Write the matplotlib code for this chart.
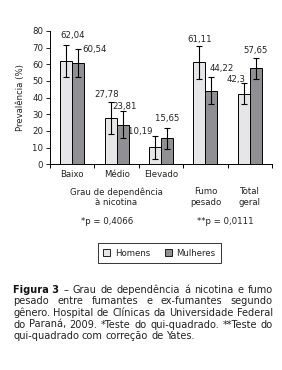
import matplotlib
matplotlib.use("Agg")
import matplotlib.pyplot as plt
from matplotlib import font_manager
from matplotlib.patches import Patch
import numpy as np

# dados
categorias = ["Baixo", "Médio", "Elevado", "Fumo\npesado", "Total\ngeral"]
homens = [62.04, 27.78, 10.19, 61.11, 42.3]
mulheres = [60.54, 23.81, 15.65, 44.22, 57.65]
erro_homens = [9.7, 9.6, 6.8, 9.7, 6.2]
erro_mulheres = [8.4, 8.0, 6.4, 8.3, 6.3]
rotulos_h = ["62,04", "27,78", "10,19", "61,11", "42,3"]
rotulos_m = ["60,54", "23,81", "15,65", "44,22", "57,65"]
p_valores = ["*p = 0,4066", "**p = 0,0111"]
legenda = ["Homens", "Mulheres"]
legenda_linhas = [
    ["Figura 3", "–", "Grau", "de", "dependência", "á", "nicotina", "e", "fumo"],
    ["pesado", "entre", "fumantes", "e", "ex-fumantes", "segundo"],
    ["gênero.", "Hospital", "de", "Clínicas", "da", "Universidade", "Federal"],
    ["do", "Paraná,", "2009.", "*Teste", "do", "qui-quadrado.", "**Teste", "do"],
    ["qui-quadrado", "com", "correção", "de", "Yates."],
]

# fonte estreita se existir
nomes = {f.name for f in font_manager.fontManager.ttflist}
if "Liberation Sans Narrow" in nomes:
    FONTE = "Liberation Sans Narrow"
    STRETCH = "normal"
else:
    FONTE = "DejaVu Sans"
    STRETCH = "condensed"
plt.rcParams["font.family"] = [FONTE, "DejaVu Sans"]
plt.rcParams["font.stretch"] = STRETCH
FS = 6.8
FS_CAP = 7.8

W, H = 282, 370
fig = plt.figure(figsize=(W / 100, H / 100), dpi=100)

def fx(px):
    return px / W

def fy(py):
    return 1 - py / H

ax = fig.add_axes([fx(50), fy(164.3), fx(272) - fx(50), fy(31) - fy(164.3)])

x = np.arange(len(categorias))
larg = 0.27
cor_h = "#e6e6e8"
cor_m = "#909094"
ax.bar(x - larg / 2, homens, larg, color=cor_h, edgecolor="black", linewidth=0.7, zorder=2)
ax.bar(x + larg / 2, mulheres, larg, color=cor_m, edgecolor="black", linewidth=0.7, zorder=2)
ax.errorbar(x - larg / 2, homens, yerr=erro_homens, fmt="none", ecolor="black",
            elinewidth=0.8, capsize=2.0, capthick=0.8, zorder=3)
ax.errorbar(x + larg / 2, mulheres, yerr=erro_mulheres, fmt="none", ecolor="black",
            elinewidth=0.8, capsize=2.0, capthick=0.8, zorder=3)

# posição dos rótulos (pixels relativos ao topo da barra de erro)
desl_h = [(6, 9, "center"), (-4, 8, "center"), (-3, 4, "right"), (0, 7, "center"), (2, 4, "right")]
desl_m = [(4, 0, "left"), (2, 5, "center"), (0, 9, "center"), (-2, 8, "left"), (0, 7, "center")]
for i in range(len(categorias)):
    dx, dy, ha = desl_h[i]
    ax.annotate(rotulos_h[i], (x[i] - larg / 2, homens[i] + erro_homens[i]),
                xytext=(dx, dy), textcoords="offset pixels", ha=ha, va="center",
                fontsize=FS, color="#222222")
    dx, dy, ha = desl_m[i]
    ax.annotate(rotulos_m[i], (x[i] + larg / 2, mulheres[i] + erro_mulheres[i]),
                xytext=(dx, dy), textcoords="offset pixels", ha=ha, va="center",
                fontsize=FS, color="#222222")

ax.set_xlim(-0.5, len(categorias) - 0.5)
ax.set_ylim(0, 80)
ax.set_yticks(range(0, 81, 10))
ax.tick_params(axis="y", labelsize=FS, length=3, width=0.7, pad=2, colors="#222222")
ax.set_xticks(np.arange(-0.5, len(categorias), 1.0))
ax.set_xticklabels([])
ax.tick_params(axis="x", length=3, width=0.7)
ax.set_xticks(x, minor=True)
ax.set_xticklabels(["Baixo", "Médio", "Elevado", "", ""], minor=True, fontsize=FS, color="#222222")
ax.tick_params(axis="x", which="minor", length=0, pad=4)
ax.spines["top"].set_visible(False)
ax.spines["right"].set_visible(False)
for s in ["left", "bottom"]:
    ax.spines[s].set_linewidth(0.7)
ax.set_ylabel("Prevalência (%)", fontsize=FS, color="#222222", labelpad=5)

# textos abaixo do eixo
fig.text(fx(116.5), fy(197), "Grau de dependência\nà nicotina", ha="center", va="center",
         fontsize=FS, color="#222222", linespacing=1.15)
for i in [3, 4]:
    px = 50 + 44.4 * (i + 0.5)
    fig.text(fx(px), fy(197), categorias[i], ha="center", va="center",
             fontsize=FS, color="#222222", linespacing=1.15)
fig.text(fx(107), fy(221), p_valores[0], ha="center", va="center", fontsize=FS, color="#222222")
fig.text(fx(225), fy(221), p_valores[1], ha="center", va="center", fontsize=FS, color="#222222")

# legenda
alcas = [Patch(facecolor=cor_h, edgecolor="black", linewidth=0.6),
         Patch(facecolor=cor_m, edgecolor="black", linewidth=0.6)]
leg = fig.legend(alcas, legenda, loc="center", bbox_to_anchor=(fx(159.5), fy(253)),
                 ncol=2, fontsize=FS, frameon=True, fancybox=False, handlelength=0.7,
                 handleheight=0.7, handletextpad=0.5, columnspacing=1.6,
                 borderpad=0.6, borderaxespad=0)
leg.get_frame().set_edgecolor("black")
leg.get_frame().set_linewidth(0.7)
for t in leg.get_texts():
    t.set_color("#222222")

# legenda da figura, justificada
esq, dir_ = 13, 273
ys = [290, 301.5, 313, 324.5, 336]
rend = fig.canvas.get_renderer()
for n, linha in enumerate(legenda_linhas):
    textos = []
    for w in linha:
        if w == "Figura 3":
            t = fig.text(0, 0, w, fontsize=FS_CAP, fontweight="bold", color="#111111")
        else:
            t = fig.text(0, 0, w, fontsize=FS_CAP, color="#222222")
        textos.append(t)
    larguras = [t.get_window_extent(rend).width for t in textos]
    if n < len(legenda_linhas) - 1:
        espaco = (dir_ - esq - sum(larguras)) / (len(textos) - 1)
    else:
        espaco = 3.0
    pos = esq
    for t, lw in zip(textos, larguras):
        t.set_position((fx(pos), fy(ys[n])))
        t.set_va("center")
        pos += lw + espaco

fig.savefig("out.png", dpi=100)
